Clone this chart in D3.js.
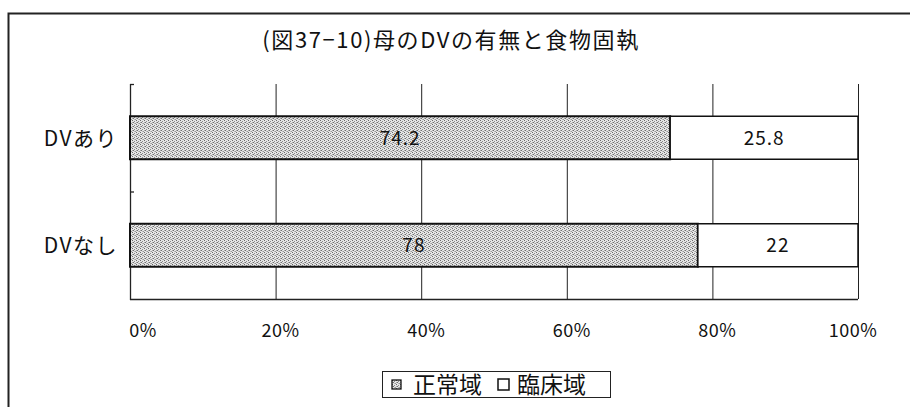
<!DOCTYPE html>
<html><head><meta charset="utf-8">
<script src="https://cdn.jsdelivr.net/npm/d3@7"></script>
<style>
html,body{margin:0;padding:0;background:#fff;}
text{font-family:"Noto Sans CJK JP","Noto Sans",sans-serif;fill:#111;}
</style></head>
<body>
<svg id="c" width="910" height="407"></svg>
<script>
const title = "(図37−10)母のDVの有無と食物固執";
const categories = ["DVあり", "DVなし"];
const seriesNames = ["正常域", "臨床域"];
const normalValues = [74.2, 78];
const clinicalValues = [25.8, 22];
const tickValues = [0, 20, 40, 60, 80, 100];
const tickLabels = ["0%", "20%", "40%", "60%", "80%", "100%"];

const svg = d3.select("#c");
const defs = svg.append("defs");
const pat = defs.append("pattern").attr("id","dots").attr("patternUnits","userSpaceOnUse")
  .attr("width",4).attr("height",4);
pat.append("rect").attr("width",4).attr("height",4).attr("fill","#e6e6e6");
[[0,0,"#6a6a6a"],[2,1,"#8a8a8a"],[1,2,"#707070"],[3,3,"#999"],[2,3,"#bbb"],[0,2,"#aaa"]].forEach(([px,py,c])=>
  pat.append("rect").attr("x",px).attr("y",py).attr("width",1).attr("height",1).attr("fill",c));

// outer frame
svg.append("path").attr("d","M8.5,420 V13.5 H920").attr("fill","none").attr("stroke","#222").attr("stroke-width",2);

const x = d3.scaleLinear().domain([0,100]).range([130,858]);
const y = d3.scaleBand().domain(categories).range([84,299]).paddingInner(0.6).paddingOuter(0.3);
const yb = d3.scaleBand().domain(categories).range([84,299]);

// title
svg.append("text").attr("x",451).attr("y",48).attr("text-anchor","middle")
  .attr("font-size",22).attr("letter-spacing",1.6).text(title);

// gridlines
svg.append("g").selectAll("line").data(tickValues.slice(1)).join("line")
  .attr("x1",d=>x(d)+0.5).attr("x2",d=>x(d)+0.5).attr("y1",84).attr("y2",299)
  .attr("stroke","#222").attr("stroke-width",1);
// bottom line
svg.append("line").attr("x1",x(0)).attr("x2",x(100)).attr("y1",299.5).attr("y2",299.5)
  .attr("stroke","#222").attr("stroke-width",1.3);
// left axis
svg.append("line").attr("x1",x(0)+0.5).attr("x2",x(0)+0.5).attr("y1",84).attr("y2",300)
  .attr("stroke","#222").attr("stroke-width",1.3);
// category ticks (inside)
svg.append("g").selectAll("line").data([84, yb(categories[1])]).join("line")
  .attr("x1",x(0)).attr("x2",x(0)+4).attr("y1",d=>d+0.5).attr("y2",d=>d+0.5)
  .attr("stroke","#222").attr("stroke-width",1.3);

// bars
const rows = categories.map((c,i)=>({c, n:normalValues[i], k:clinicalValues[i]}));
const g = svg.append("g");
rows.forEach(r=>{
  g.append("rect").attr("x",x(0)).attr("y",y(r.c)).attr("width",x(r.n)-x(0)).attr("height",y.bandwidth())
    .attr("fill","url(#dots)").attr("stroke","#111").attr("stroke-width",2);
  g.append("rect").attr("x",x(r.n)).attr("y",y(r.c)).attr("width",x(r.n+r.k)-x(r.n)).attr("height",y.bandwidth())
    .attr("fill","#fff").attr("stroke","#111").attr("stroke-width",1.5);
  g.append("text").attr("x",(x(0)+x(r.n))/2).attr("y",y(r.c)+y.bandwidth()/2+7)
    .attr("text-anchor","middle").attr("font-size",19).attr("letter-spacing",1).text(r.n);
  g.append("text").attr("x",(x(r.n)+x(r.n+r.k))/2).attr("y",y(r.c)+y.bandwidth()/2+7)
    .attr("text-anchor","middle").attr("font-size",19).attr("letter-spacing",1).text(r.k);
  svg.append("text").attr("x",118).attr("y",y(r.c)+y.bandwidth()/2+8)
    .attr("text-anchor","end").attr("font-size",21).attr("letter-spacing",1.5).text(r.c);
});

// x labels
svg.append("g").selectAll("text").data(tickValues).join("text")
  .attr("x",(d,i)=>x(d)+ (i===0?13:(i===5?-5:5))).attr("y",337).attr("text-anchor","middle")
  .attr("font-size",18).attr("letter-spacing",0.5).text((d,i)=>tickLabels[i]);

// legend
const lg = svg.append("g");
lg.append("rect").attr("x",382.5).attr("y",371.5).attr("width",228).attr("height",26)
  .attr("fill","#fff").attr("stroke","#222").attr("stroke-width",1);
lg.append("rect").attr("x",392).attr("y",380).attr("width",9).attr("height",9)
  .attr("fill","url(#dots)").attr("stroke","#111").attr("stroke-width",1.3);
lg.append("text").attr("x",413).attr("y",393).attr("font-size",23).text(seriesNames[0]);
lg.append("rect").attr("x",498).attr("y",379).attr("width",11).attr("height",11)
  .attr("fill","#fff").attr("stroke","#111").attr("stroke-width",1.5);
lg.append("text").attr("x",517).attr("y",393).attr("font-size",23).text(seriesNames[1]);
</script>
</body></html>
